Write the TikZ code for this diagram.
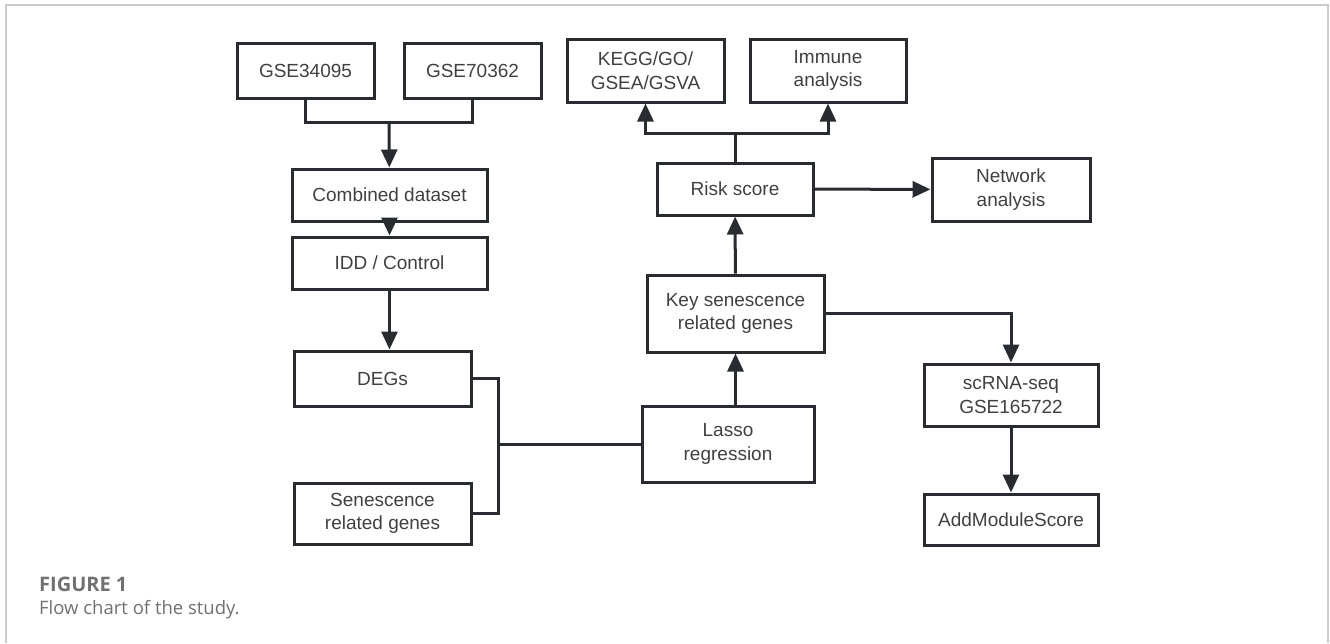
\documentclass[tikz,border=0pt]{standalone}
\usepackage{fontspec}
\setmainfont{Liberation Sans}
\newfontfamily\capfont{Open Sans}
\usetikzlibrary{arrows.meta}
\definecolor{boxline}{RGB}{40,44,48}
\definecolor{boxtext}{RGB}{64,64,64}
\definecolor{capgray}{RGB}{112,112,112}

\begin{document}
\begin{tikzpicture}[x=1pt, y=-1pt,
  box/.style={draw=boxline, line width=3pt, text=boxtext, align=center, inner sep=0pt,
    font=\fontsize{19}{23.5}\selectfont},
  link/.style={draw=boxline, line width=3pt},
  arr/.style={link, -{Triangle[length=18pt,width=16pt]}},
  caption/.style={anchor=base west, text=capgray, inner sep=0pt}]
  \useasboundingbox (0,0) rectangle (1330,643);
  \draw [gray!40, line width=1.8pt] (6,643) -- (6,5) -- (1328,5) -- (1328,643);

  % left column
  \node [box, minimum width=137, minimum height=55] (gseA) at (305.5,70.5) {GSE34095};
  \node [box, minimum width=137, minimum height=55] (gseB) at (472.5,70.5) {GSE70362};
  \node [box, minimum width=195, minimum height=52] (combined) at (389.5,195) {Combined dataset};
  \node [box, minimum width=195, minimum height=52] (idd) at (389.5,263) {IDD / Control};
  \node [box, minimum width=177, minimum height=55] (degs) at (382.5,378.5) {DEGs};
  \node [box, minimum width=177, minimum height=61] (sengenes) at (382.5,513.5) {Senescence\\related genes};

  % middle column
  \node [box, minimum width=172, minimum height=76] (lasso) at (728,444) {Lasso\\regression};
  \node [box, minimum width=177, minimum height=77] (keygenes) at (735.5,313.5) {Key senescence\\related genes};
  \node [box, minimum width=156, minimum height=52] (risk) at (735,189) {Risk score};
  \node [box, minimum width=157, minimum height=63] (kegg) at (645.5,70.5) {KEGG/GO/\\GSEA/GSVA};
  \node [box, minimum width=156, minimum height=63] (immune) at (828,70.5) {Immune\\analysis};

  % right column
  \node [box, minimum width=158, minimum height=63] (network) at (1011,189.5) {Network\\analysis};
  \node [box, minimum width=174, minimum height=62] (scrna) at (1011,395) {scRNA-seq\\GSE165722};
  \node [box, minimum width=174, minimum height=51] (addmodule) at (1011,519.5) {AddModuleScore};

  \coordinate (merge) at (389,122);
  \coordinate (join) at (498,444);
  \coordinate (split) at (735,133);

  \draw [link] (gseA.south) |- (merge) -| (gseB.south);
  \draw [arr] (merge) -- (combined);
  \draw [arr] (combined) -- (idd);
  \draw [arr] (idd.south) -- (idd.south |- degs.north);
  \draw [link] (degs.east) -| (join);
  \draw [link] (sengenes.east) -| (join) -- (lasso.west);
  \draw [arr] (lasso.north -| keygenes) -- (keygenes.south);
  \draw [arr] (keygenes) -- (risk);
  \draw [link] (risk.north) -- (split);
  \draw [arr] (split) -| (kegg.south);
  \draw [arr] (split) -| (immune.south);
  \draw [arr] (risk) -- (network);
  \draw [arr] (keygenes.east) -| (scrna.north);
  \draw [arr] (scrna) -- (addmodule);

  % caption
  \node [caption, font=\capfont\bfseries\fontsize{20}{24}\selectfont] (figlabel) at (39,591) {FIGURE 1};
  \node [caption, font=\capfont\fontsize{18.5}{22}\selectfont] (figtext) at (39,614) {Flow chart of the study.};
\end{tikzpicture}
\end{document}
